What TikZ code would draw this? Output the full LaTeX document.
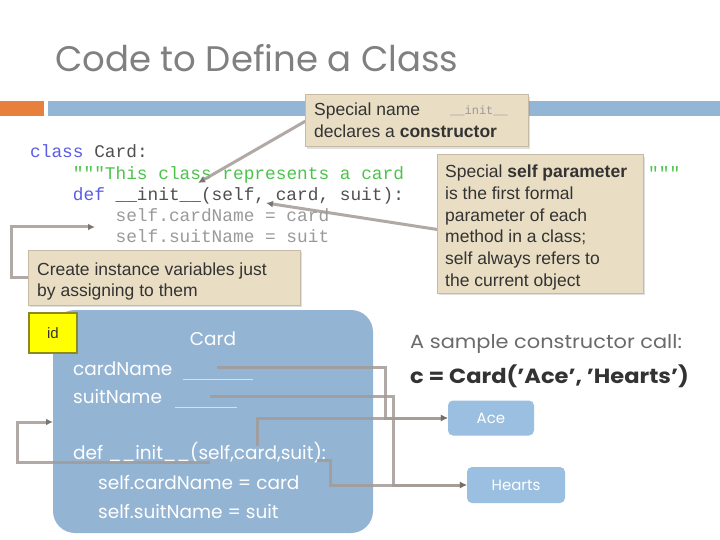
\documentclass[tikz,border=0pt]{standalone}
\usepackage{fontspec}
\usepackage{graphicx}
\setmainfont{Liberation Sans}
\newfontfamily\gothic{Poppins}
\newfontfamily\codefont{Liberation Mono}
\usetikzlibrary{arrows.meta,shadows}
\definecolor{orangebar}{HTML}{E6803C}
\definecolor{bluebar}{HTML}{93B5D6}
\definecolor{calloutfill}{HTML}{E9DEC4}
\definecolor{calloutdraw}{HTML}{C6BAA4}
\definecolor{cardfill}{HTML}{94B4D4}
\definecolor{valfill}{HTML}{9BBFE0}
\definecolor{idyellow}{HTML}{FFFF00}
\definecolor{iddraw}{HTML}{8A8A20}
\definecolor{connc}{HTML}{A39B96}
\definecolor{tipc}{HTML}{766C66}
\definecolor{titlegray}{HTML}{808080}
\definecolor{kwblue}{HTML}{5C5CE6}
\definecolor{docgreen}{HTML}{4CC44C}
\definecolor{codedark}{HTML}{505050}
\definecolor{codelight}{HTML}{9A9A9A}
\definecolor{textdark}{HTML}{333333}
\definecolor{callgray}{HTML}{6A6A6A}
\tikzset{
  txt/.style={inner sep=0pt, anchor=base west},
  codeline/.style={txt, font=\codefont\fontsize{17.8}{21}\selectfont},
  calltext/.style={txt, font=\fontsize{17.5}{21.6}\selectfont, text=textdark},
  cardtext/.style={txt, font=\gothic\fontsize{18.5}{22}\selectfont, text=white},
  calloutbox/.style={draw=calloutdraw, line width=1pt, fill=calloutfill, inner sep=0pt,
    drop shadow={shadow xshift=2pt, shadow yshift=-2pt, opacity=0.25}},
  valbox/.style={fill=valfill, rounded corners=5pt, inner sep=0pt, text=white,
    font=\gothic\fontsize{15}{18}\selectfont},
  conn/.style={draw=connc, line width=3pt, opacity=0.85},
  tipped/.style={-{Latex[length=7pt,width=7pt,color=tipc]}},
}
\begin{document}
\begin{tikzpicture}[x=1pt,y=-1pt]
\useasboundingbox (0,0) rectangle (720,540);
\fill[white] (0,0) rectangle (720,540);

% title and bars
\node[txt, font=\gothic\fontsize{35.5}{42}\selectfont, text=titlegray] (title) at (55,72) {Code to Define a Class};
\fill[orangebar] (0,101) rectangle (44,116);
\fill[bluebar] (48,101) rectangle (720,116);

% code
\node[codeline, text=kwblue] (l1a) at (30,158) {class};
\node[codeline, text=codedark] (l1b) at (94.1,158) {Card:};
\node[codeline, text=docgreen] (l2) at (72.7,180) {"""This class represents a card};
\node[codeline, text=docgreen] (l2b) at (648,180) {"""};
\node[codeline, text=kwblue] (l3a) at (72.7,201) {def};
\node[codeline, text=codedark] (l3b) at (115.4,201) {\_\_init\_\_(self, card, suit):};
\node[codeline, text=codelight] (l4) at (115.4,222) {self.cardName = card};
\node[codeline, text=codelight] (l5) at (115.4,243) {self.suitName = suit};

% callout connectors
\coordinate (k1) at (330,107);
\coordinate (initTip) at (198,183);
\coordinate (k2) at (460,233);
\coordinate (selfTip) at (266,203);
\coordinate (varTip) at (95,227);
\draw[conn, tipped] (k1) -- (initTip);
\draw[conn, tipped] (k2) -- (selfTip);

% callouts
\node[calloutbox, minimum width=223pt, minimum height=52pt] (c1) at (416.5,121) {};
\node[calltext] (c1a) at (314,116) {Special name};
\node[txt, font=\codefont\fontsize{12}{14}\selectfont, text=codelight] (c1i) at (450,115) {\_\_init\_\_};
\node[calltext] (c1b) at (314,138) {declares a \textbf{constructor}};

\node[calloutbox, minimum width=206pt, minimum height=138pt] (c2) at (540,224) {};
\node[calltext] (c2a) at (445,178) {Special \textbf{self parameter}};
\node[calltext] (c2b) at (445,199.6) {is the first formal};
\node[calltext] (c2c) at (445,221.2) {parameter of each};
\node[calltext] (c2d) at (445,242.8) {method in a class;};
\node[calltext] (c2e) at (445,264.4) {self always refers to};
\node[calltext] (c2f) at (445,286) {the current object};

\node[calloutbox, minimum width=272pt, minimum height=55pt] (c3) at (164,277.5) {};
\node[calltext] (c3a) at (37,275) {Create instance variables just};
\node[calltext] (c3b) at (37,296) {by assigning to them};
\draw[conn, tipped] (c3.west) -- ++(-16,0) |- (varTip);

% object box
\node[fill=cardfill, rounded corners=22pt, minimum width=320pt, minimum height=223pt, inner sep=0pt] (card) at (213,421.5) {};
\node[fill=idyellow, draw=iddraw, line width=1.5pt, minimum width=48pt, minimum height=40pt, inner sep=0pt,
  font=\fontsize{15}{18}\selectfont, text=textdark] (id) at (53,333) {id};
\node[txt, anchor=base, font=\gothic\fontsize{18.5}{22}\selectfont, text=white] (cardt) at (213,345) {Card};
\node[cardtext] (cn) at (73,375) {cardName};
\node[cardtext] (sn) at (73,403) {suitName};
\draw[white, line width=1pt, opacity=0.6] (183,379) -- (253,379);
\draw[white, line width=1pt, opacity=0.6] (175,407) -- (237,407);
\node[cardtext] (df) at (73,459) {def \_\_init\_\_(self,card,suit):};
\node[cardtext] (a1) at (98,489) {self.cardName = card};
\node[cardtext] (a2) at (98,518) {self.suitName = suit};

% sample call
\node[txt, font=\gothic\fontsize{19}{22}\selectfont, text=callgray] (s1) at (410,348) {\scalebox{1.1}[1]{A sample constructor call:}};
\node[txt, font=\gothic\bfseries\fontsize{20.5}{24}\selectfont, text=textdark] (s2) at (410,383) {\scalebox{1.1}[1]{c = Card(’Ace’, ’Hearts’)}};

% value boxes
\node[valbox, minimum width=86pt, minimum height=35pt] (ace) at (491,418) {Ace};
\node[valbox, minimum width=98pt, minimum height=36pt] (hearts) at (516,485) {Hearts};

% object connectors
\coordinate (cnS) at (217,367);
\coordinate (jA) at (385,418);
\coordinate (snS) at (210,396);
\coordinate (jH) at (393,485);
\coordinate (cpS) at (257,446);
\coordinate (spS) at (317,460);
\coordinate (sfS) at (210,462);
\coordinate (objTip) at (53,422);
\draw[conn, tipped] (cnS) -| (jA) -- (ace.west);
\draw[conn, tipped] (snS) -| (jH) -- (hearts.west);
\draw[conn, tipped] (cpS) |- (ace.west);
\draw[conn, tipped] (spS) -| (330,485) -- (hearts.west);
\draw[conn, tipped] (sfS) -- (17,462) |- (objTip);
\end{tikzpicture}
\end{document}
